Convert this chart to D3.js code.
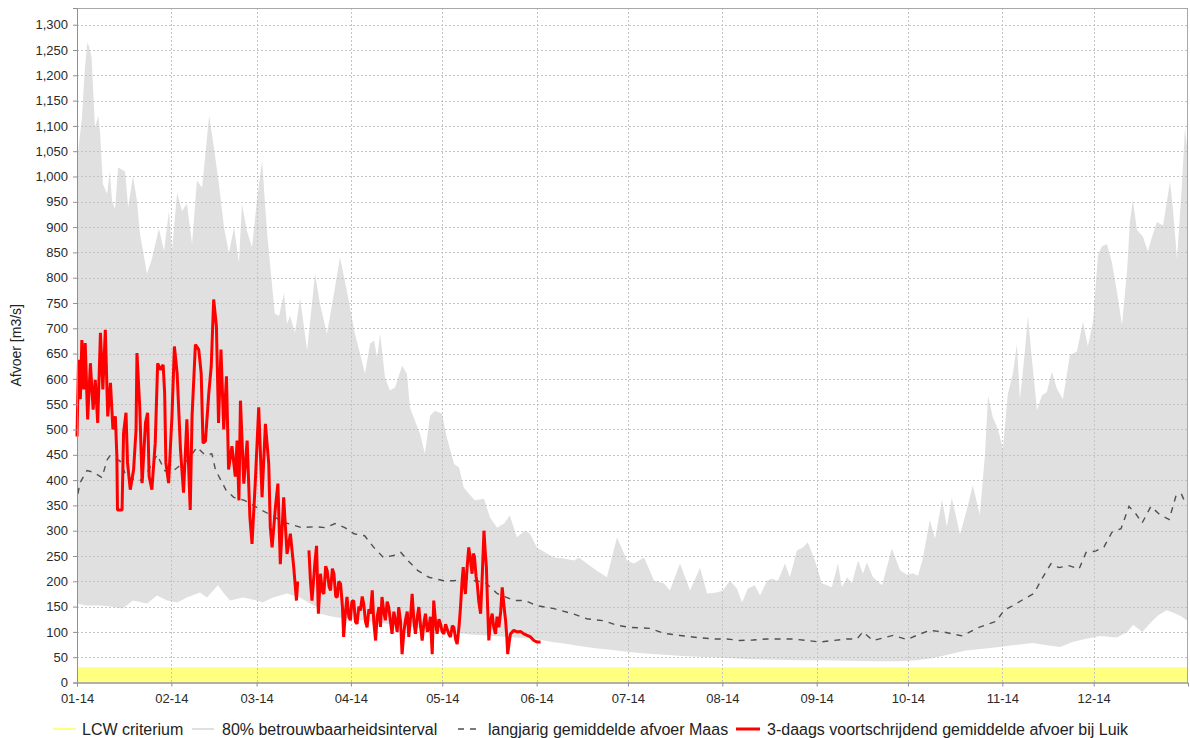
<!DOCTYPE html>
<html><head><meta charset="utf-8">
<script src="https://cdn.jsdelivr.net/npm/d3@7"></script>
<style>
body{margin:0;background:#fff}
svg text{font-family:"Liberation Sans",Arial,sans-serif}
</style>
</head><body>
<svg id="chart" width="1190" height="738"></svg>
<script>
// ---- DATA (x = days since 2014-01-01, y = m3/s) ----
const monthTicks = ["2014-01-01","2014-02-01","2014-03-01","2014-04-01","2014-05-01","2014-06-01",
  "2014-07-01","2014-08-01","2014-09-01","2014-10-01","2014-11-01","2014-12-01"];
const yTickValues = d3.range(0, 1301, 50);
const lcwCriterium = 30;
const yearDays = [0, 365];

const bandUpper = [[0.3,1045],[1.6,1115],[2.6,1215],[3.4,1265],[3.9,1258],[4.8,1235],[5.9,1097],[7,1120],[7.6,1085],[8.5,985],[9.9,966],[10.8,1010],[11.5,952],[12.5,936],[13.5,1018],[15.8,1010],[16.8,939],[18.4,1001],[19.7,952],[20.7,886],[21.7,853],[23,808],[24.6,837],[26.9,897],[28.6,853],[30.2,932],[31.2,853],[32.9,968],[34.5,932],[36.1,946],[37.8,867],[39.4,992],[41.1,978],[43.4,1120],[45,1057],[46.6,986],[48.3,899],[49.9,849],[51.6,899],[53.2,830],[54.2,946],[55.8,893],[57.5,860],[59.1,952],[60.8,1031],[62.4,893],[63.4,828],[65,729],[66.4,725],[68,770],[69,709],[70,725],[71.6,691],[73.3,760],[75.6,656],[78.2,808],[79.8,749],[82.1,689],[84.4,768],[86.4,840],[88,794],[89.7,741],[91.3,689],[93,650],[94.6,610],[96.3,670],[97.6,676],[98.6,642],[99.6,689],[101.2,603],[102.8,577],[104.5,583],[106.8,626],[108.4,610],[109.4,543],[112.7,491],[114.3,452],[116,527],[117.6,537],[119.9,531],[121.5,484],[123.9,432],[125.5,425],[127.1,385],[128.8,373],[130.7,360],[133.7,363],[135.7,326],[138,306],[140.3,314],[142.2,330],[144.5,287],[147.2,300],[148.8,294],[151.1,267],[154.4,255],[156.7,247],[160,245],[163.3,241],[164.9,247],[167.5,235],[170.8,221],[174.1,208],[177.4,287],[180.7,241],[183,235],[186.3,247],[189.6,201],[192.8,196],[194.8,182],[198.1,235],[201.4,182],[204.7,227],[207,176],[210.2,178],[212.2,182],[214.5,201],[216.8,186],[218.5,158],[220.4,186],[222.7,192],[224.4,172],[226.7,201],[228.3,205],[230.3,201],[232.6,235],[234.2,208],[236.5,261],[238.5,267],[240.1,277],[242.4,241],[244.7,196],[248,188],[250,235],[251.3,188],[253,208],[254.6,196],[256.6,241],[258.2,215],[259.5,237],[261.5,208],[264.5,192],[267.7,265],[270.4,222],[272.7,213],[274.6,216],[276.3,211],[277.9,246],[280.2,321],[281.9,284],[284.2,361],[285.8,308],[287.4,365],[290.1,293],[292.4,343],[294.3,390],[296.6,331],[298.3,450],[299.3,567],[300.9,523],[302.6,500],[304.2,461],[305.8,570],[307.5,611],[308.8,669],[309.8,560],[311.4,654],[312.4,725],[313.7,640],[315.4,538],[317,567],[318.6,574],[320.3,614],[321.9,581],[323.9,560],[326.2,647],[328.5,654],[330.5,713],[332.1,665],[333.8,713],[335.4,844],[336.7,862],[338.4,866],[340,830],[341.7,771],[343.3,706],[345,815],[345.9,910],[346.9,954],[348.2,895],[350.2,881],[351.8,852],[353.2,881],[354.8,910],[356.8,903],[359.1,990],[360.1,932],[361.4,837],[363,983],[364,1096],[365,1041]];

const bandLower = [[0,156],[3,152],[7.5,152],[11,150],[15,146],[18.4,162],[23,156],[26.3,172],[29.6,162],[32.9,158],[36.1,168],[40.4,178],[42.7,168],[46.3,192],[48,178],[50.3,162],[54.5,168],[59.1,162],[61,158],[64.4,168],[69,176],[73.2,168],[76.5,156],[78.5,150],[79.8,136],[84,130],[89.7,125],[95,122],[99.5,118],[104,114],[109.4,110],[115,105],[120,100],[125,98],[129,95],[135,93],[142,90],[146,88],[151,86],[156,80],[160,77],[165,72],[171,67],[176,64],[182,60],[188,57],[193,55],[200,52],[209,50],[215,48],[221,46],[230,45],[237.5,44],[245,44],[254,43],[262,42],[270,42],[276,44],[281,48],[286,55],[292,63],[297,66],[303,70],[308,74],[314,78],[318,74],[323,70],[327,80],[330.5,85],[336,92],[341.7,89],[345,100],[347,114],[350,100],[353,120],[355,132],[358,143],[361,136],[363,130],[365,121]];

const meanFlow = [[0.3,373],[1,395],[3.3,419],[5.6,415],[8.2,405],[9.9,440],[10.8,448],[14.1,438],[16.4,405],[20.7,399],[23,415],[26.3,450],[28.9,418],[31,415],[33,425],[36.5,440],[39.4,465],[42,450],[44.3,452],[45.5,420],[49,380],[51.5,366],[55,360],[59.1,346],[62.4,335],[68.3,316],[73.9,306],[78.2,308],[81.5,306],[84.8,314],[88,306],[91,294],[94.5,290],[97.5,267],[100.7,247],[104,251],[106.4,257],[108.7,241],[112,221],[115.6,208],[120.5,201],[123.8,201],[127.9,205],[130.7,201],[134,198],[138,176],[143.6,162],[147.2,162],[151,152],[156.7,146],[163.3,135],[167.5,126],[173.1,122],[177.4,113],[181.6,109],[188.2,107],[192.8,97],[198.1,93],[203.7,89],[209.2,86],[213.5,86],[217.8,83],[222,84],[226.7,86],[231,86],[235.3,86],[239.8,83],[244,80],[248.3,83],[252.9,86],[256.2,86],[258.2,100],[261.5,83],[266.1,90],[268.1,93],[272.7,85],[277,96],[280.2,103],[284.5,100],[287.7,96],[290.9,92],[295.5,107],[298.8,114],[302,121],[304.6,143],[307.2,151],[311.1,165],[314.4,176],[317,205],[320,235],[322.6,227],[325.9,231],[329.2,224],[331.5,257],[334.8,260],[337.4,268],[340,297],[343,304],[345.6,348],[347.9,333],[349.9,315],[352.8,348],[355.5,333],[358.8,322],[361.1,370],[362.8,373],[364.4,351]];

const luikFlow = [[0,486],[0.5,638],[1.1,560],[1.6,677],[2.2,579],[2.7,671],[3.5,520],[4.4,631],[5.3,539],[6,598],[6.8,513],[7.7,691],[8.5,579],[9.3,697],[10.1,526],[11,592],[11.8,500],[12.6,526],[13.1,447],[13.3,341],[14.8,341],[15.3,493],[16.1,533],[16.6,434],[17.5,381],[18.6,421],[19.4,500],[19.7,651],[20.6,546],[21.4,394],[22.5,513],[23.2,533],[23.7,407],[24.6,381],[25.7,473],[26.5,631],[27.4,618],[28.3,628],[28.8,572],[29.2,434],[30.1,394],[31.2,526],[32,664],[32.9,611],[34,460],[35,375],[36.1,520],[37.2,341],[37.8,526],[38.9,668],[40,658],[40.8,611],[41.4,473],[42.2,477],[43.3,572],[44.1,625],[44.9,757],[45.8,704],[46.5,513],[47.3,658],[48.2,500],[49.1,605],[49.8,421],[50.9,467],[52,407],[52.6,478],[53.2,360],[53.7,557],[54.8,393],[55.9,478],[56.8,327],[57.5,274],[58.6,399],[59.7,544],[60.8,366],[61.9,511],[63,432],[63.5,307],[64.1,267],[65.2,347],[66,393],[66.8,234],[67.9,366],[69,254],[70.1,294],[71.2,228],[72.1,162],[72.5,200],[72.8,null],
[76.2,261],[76.7,200],[77.2,162],[78.2,240],[78.7,270],[79.3,136],[80,215],[80.6,180],[81.1,175],[81.7,230],[82.2,221],[82.8,190],[83.3,182],[83.9,225],[84.4,215],[85,170],[85.5,169],[86,200],[86.6,195],[87.2,150],[87.6,90],[88.2,140],[88.7,169],[89.3,130],[89.8,123],[90.3,160],[90.9,162],[91.5,120],[92,116],[92.6,150],[93.1,142],[93.7,170],[94.2,155],[94.8,120],[95.3,109],[95.9,145],[96.4,136],[97,182],[97.5,120],[98.1,83],[98.6,130],[99.2,149],[99.7,110],[100.2,169],[100.8,140],[101.3,123],[101.9,160],[102.4,149],[103,120],[103.5,96],[104.1,140],[104.6,123],[105.2,100],[105.7,149],[106.3,120],[106.8,56],[107.4,100],[107.9,123],[108.5,140],[109,90],[109.6,130],[110.1,175],[110.7,120],[111.2,96],[111.8,130],[112.3,149],[112.9,110],[113.4,83],[114,120],[114.5,136],[115.1,100],[115.6,109],[116.1,130],[116.7,56],[117.2,162],[117.8,120],[118.3,96],[118.9,125],[119.4,116],[120,100],[120.5,96],[121.1,115],[121.6,106],[122.2,95],[122.7,90],[123.3,112],[123.8,109],[124.4,85],[124.9,76],[125.5,110],[126,149],[126.5,200],[126.9,228],[127.3,190],[127.6,175],[128.2,230],[128.7,267],[129.3,240],[129.8,215],[130.2,255],[130.6,248],[131.1,210],[131.5,195],[132,160],[132.6,136],[133.2,220],[133.7,300],[134.1,260],[134.5,228],[134.9,150],[135.3,83],[135.8,120],[136.4,136],[136.9,110],[137.5,96],[138,130],[138.6,109],[139.2,140],[139.7,188],[140.3,150],[140.8,123],[141.2,90],[141.5,56],[142,80],[142.4,96],[143,100],[143.5,103],[144.6,100],[145.7,101],[146.8,96],[147.9,93],[149,90],[150.1,83],[151.2,80],[152.3,80]];

const legendItems = [
  {label:"LCW criterium", kind:"lcw"},
  {label:"80% betrouwbaarheidsinterval", kind:"band"},
  {label:"langjarig gemiddelde afvoer Maas", kind:"mean"},
  {label:"3-daags voortschrijdend gemiddelde afvoer bij Luik", kind:"luik"}
];

// ---- CHART ----
const svg = d3.select("#chart");
const W = 1190, H = 738;
const m = {left:77, right:2, top:8, bottom:55};
const t0 = Date.UTC(2014,0,1);
const dayToDate = d => new Date(t0 + d*86400000);
const x = d3.scaleUtc().domain([dayToDate(0), dayToDate(365)]).range([m.left, W - m.right]);
const y = d3.scaleLinear().domain([0, 1333]).range([H - m.bottom - 0.5, m.top]);
const xd = d => x(dayToDate(d));

const colors = {lcw:"#ffff80", band:"#e0e0e0", mean:"#505050", luik:"#ff0000", grid:"#c4c4c4"};

// band polygon: upper forward, lower backward
const bandPts = bandUpper.concat(bandLower.slice().reverse());
svg.append("path")
  .attr("d", d3.line().x(d => xd(d[0])).y(d => y(d[1]))(bandPts) + "Z")
  .attr("fill", colors.band);

// LCW criterium band
svg.append("path")
  .datum(yearDays)
  .attr("d", d3.area().x(d => xd(d)).y0(y(0)).y1(y(lcwCriterium)))
  .attr("fill", colors.lcw);

// grid
const tickDates = monthTicks.map(s => new Date(s + "T00:00:00Z"));
const grid = svg.append("g");
grid.selectAll("line.h").data(yTickValues.filter(v => v > 0)).join("line")
  .attr("x1", m.left).attr("x2", W - m.right)
  .attr("y1", d => Math.round(y(d)) + 0.5).attr("y2", d => Math.round(y(d)) + 0.5)
  .attr("stroke", colors.grid).attr("stroke-dasharray", "2,2");
grid.selectAll("line.v").data(tickDates.slice(1)).join("line")
  .attr("y1", m.top).attr("y2", y(0))
  .attr("x1", d => Math.round(x(d)) + 0.5).attr("x2", d => Math.round(x(d)) + 0.5)
  .attr("stroke", colors.grid).attr("stroke-dasharray", "2,2");

// mean line
svg.append("path")
  .datum(meanFlow)
  .attr("d", d3.line().x(d => xd(d[0])).y(d => y(d[1])))
  .attr("fill", "none").attr("stroke", colors.mean).attr("stroke-width", 1.4)
  .attr("stroke-dasharray", "6,6");

// Luik line
svg.append("path")
  .datum(luikFlow)
  .attr("d", d3.line().defined(d => d[1] != null).x(d => xd(d[0])).y(d => y(d[1])))
  .attr("fill", "none").attr("stroke", colors.luik).attr("stroke-width", 3)
  .attr("stroke-linejoin", "bevel");

// frame
svg.append("rect")
  .attr("x", m.left + 0.5).attr("y", m.top + 0.5)
  .attr("width", W - m.right - m.left - 1).attr("height", y(0) - m.top)
  .attr("fill", "none").attr("stroke", "#a8a8a8");

// axes
const xAxis = svg.append("g").attr("transform", `translate(0,${y(0)})`)
  .call(d3.axisBottom(x).tickValues(tickDates).tickFormat(d3.utcFormat("%m-%y")).tickSize(4).tickPadding(7));
const yAxis = svg.append("g").attr("transform", `translate(${m.left},0)`)
  .call(d3.axisLeft(y).tickValues(yTickValues).tickFormat(d3.format(",")).tickSize(4).tickPadding(5));
[xAxis, yAxis].forEach(a => {
  a.select(".domain").attr("stroke", "#909090");
  a.selectAll(".tick line").attr("stroke", "#909090");
  a.selectAll(".tick text").attr("fill", "#2a2a2a").style("font-size", "13px");
});

svg.append("text")
  .attr("transform", `translate(21,${(y(0)+m.top)/2}) rotate(-90)`)
  .attr("text-anchor", "middle").style("font-size", "14px").attr("fill", "#222")
  .text("Afvoer [m3/s]");

// legend
const legendX = [53, 192, 458, 736];
const legY = 729;
const lg = svg.append("g");
legendItems.forEach((it, i) => {
  const lx = legendX[i];
  const g = lg.append("g");
  if (it.kind === "lcw") g.append("line").attr("x1", lx).attr("x2", lx + 23).attr("y1", legY).attr("y2", legY).attr("stroke", colors.lcw).attr("stroke-width", 2);
  if (it.kind === "band") g.append("line").attr("x1", lx).attr("x2", lx + 22).attr("y1", legY).attr("y2", legY).attr("stroke", colors.band).attr("stroke-width", 2);
  if (it.kind === "mean") g.append("line").attr("x1", lx).attr("x2", lx + 23).attr("y1", legY).attr("y2", legY).attr("stroke", colors.mean).attr("stroke-width", 1.4).attr("stroke-dasharray", "6,6");
  if (it.kind === "luik") g.append("line").attr("x1", lx).attr("x2", lx + 24).attr("y1", legY).attr("y2", legY).attr("stroke", colors.luik).attr("stroke-width", 3);
  g.append("text").attr("x", lx + (it.kind === "luik" ? 31 : it.kind === "lcw" ? 29 : 30)).attr("y", legY + 5.5)
    .style("font-size", "16px").attr("fill", "#222").text(it.label);
});
</script>
</body></html>
